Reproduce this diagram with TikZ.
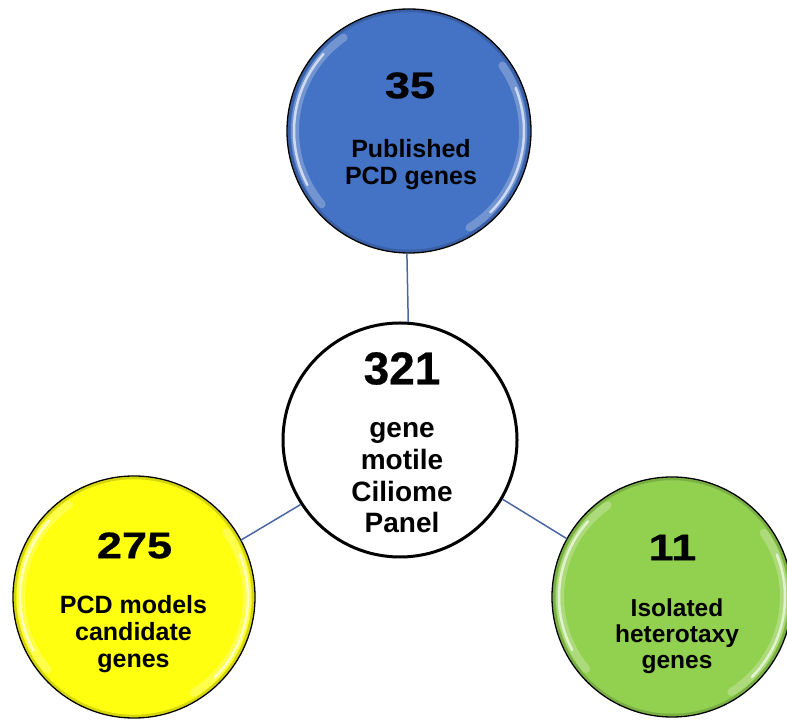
\documentclass[tikz,border=0pt]{standalone}
\usepackage{fontspec}
\usepackage{graphicx}
\setmainfont{Liberation Sans}
\newfontfamily\numfont[FakeBold=0.6]{Liberation Sans Bold}
\definecolor{cblue}{HTML}{4472C4}
\definecolor{cyellow}{HTML}{FFFF10}
\definecolor{cgreen}{HTML}{92D050}
\definecolor{cline}{HTML}{4A67A3}
\newcommand{\glossarcs}[3]{% node, radius, color
  \draw[#3!55!black, opacity=0.35, line width=2.5pt] (#1.center) circle[radius=#2-2];
  \draw[white, opacity=0.25, line width=8pt, line cap=round]
    ([shift={(125:#2-8)}]#1.center) arc[start angle=125, end angle=220, radius=#2-8];
  \draw[white, opacity=0.65, line width=2.5pt, line cap=round]
    ([shift={(138:#2-7)}]#1.center) arc[start angle=138, end angle=208, radius=#2-7];
  \draw[white, opacity=0.25, line width=8pt, line cap=round]
    ([shift={(-58:#2-8)}]#1.center) arc[start angle=-58, end angle=35, radius=#2-8];
  \draw[white, opacity=0.65, line width=2.5pt, line cap=round]
    ([shift={(-45:#2-7)}]#1.center) arc[start angle=-45, end angle=22, radius=#2-7];
  \draw[black, line width=1.3pt] (#1.center) circle[radius=#2];
}
\begin{document}
\begin{tikzpicture}[x=1pt,y=1pt,
  outer/.style={circle, inner sep=0pt, outer sep=0pt, draw=none},
  numtxt/.style={inner sep=0pt, font=\numfont\fontsize{37}{37}\selectfont},
  lbltxt/.style={inner sep=0pt, align=center, font=\bfseries\fontsize{25}{27}\selectfont},
  link/.style={draw=cline, line width=1.5pt}]
\useasboundingbox (0,0) rectangle (787,720);
\clip (0,0) rectangle (787,720);

% outer circles
\node[outer, fill=cblue, minimum size=244pt] (bcirc) at (409,589) {};
\node[outer, fill=cyellow, minimum size=242pt] (ycirc) at (134,123) {};
\node[outer, fill=cgreen, minimum size=240pt] (gcirc) at (672,123) {};
\glossarcs{bcirc}{122}{cblue}
\glossarcs{ycirc}{121}{cyellow}
\glossarcs{gcirc}{120}{cgreen}

% central circle
\node[circle, fill=white, draw=black, line width=3pt, minimum size=234pt, inner sep=0pt] (center) at (400,280) {};

% connectors
\draw[link] (bcirc.269) -- (center.86.5);
\draw[link] (ycirc.28) -- (center.213);
\draw[link] (center.-30) -- (gcirc.151);

% texts
\node[numtxt] (bluenum) at (410,634.5) {\scalebox{1.22}[1]{35}};
\node[lbltxt] (bluelbl) at (411,555) {Published\\PCD genes};

\node[inner sep=0pt, font=\numfont\fontsize{46}{46}\selectfont] (centernum) at (402,351.5) {321};
\node[inner sep=0pt, align=center, font=\bfseries\fontsize{28}{31.7}\selectfont] (centerlbl) at (402,242) {gene\\motile\\Ciliome\\Panel};

\node[numtxt] (yellownum) at (134.5,174.5) {\scalebox{1.22}[1]{275}};
\node[lbltxt] (yellowlbl) at (133.5,86.4) {PCD models\\candidate\\genes};

\node[numtxt] (greennum) at (672.5,172.5) {\scalebox{1.22}[1]{11}};
\node[inner sep=0pt, align=center, font=\bfseries\fontsize{24.5}{25.8}\selectfont] (greenlbl) at (677,84) {Isolated\\heterotaxy\\genes};
\end{tikzpicture}
\end{document}
